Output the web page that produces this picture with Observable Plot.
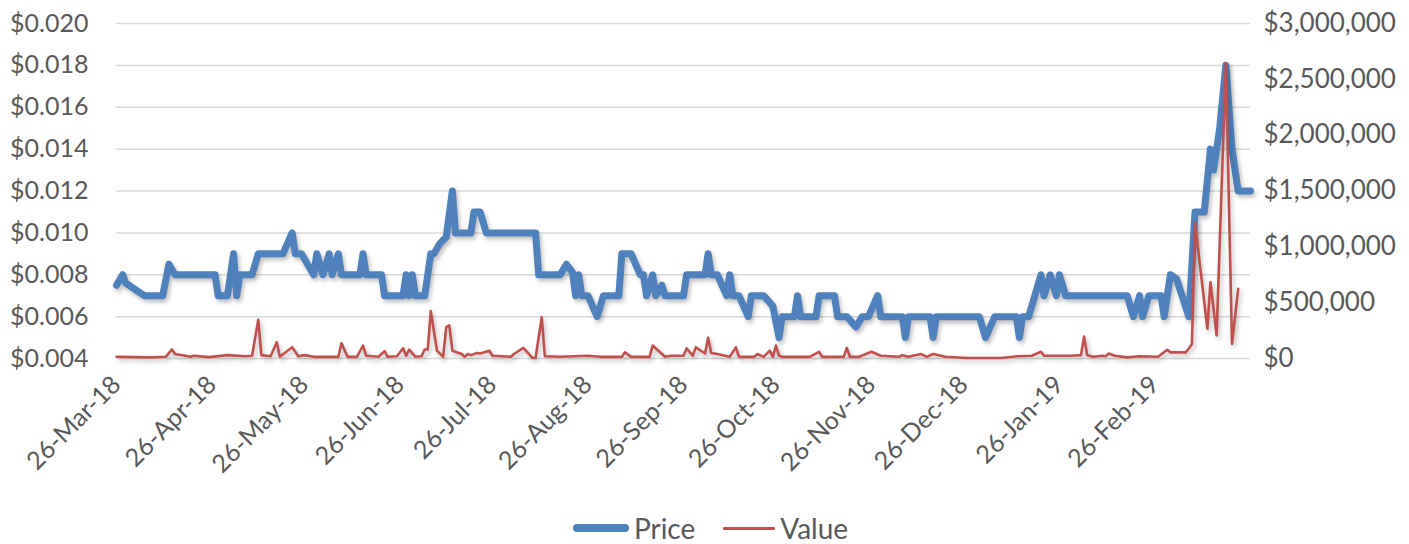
<!DOCTYPE html>
<html>
<head>
<meta charset="utf-8">
<script src="https://cdn.jsdelivr.net/npm/d3@7"></script>
<script src="https://cdn.jsdelivr.net/npm/@observablehq/plot@0.6"></script>
<style>
  html, body { margin: 0; padding: 0; background: #fff; }
  #chart { width: 1409px; height: 544px; position: relative; font-family: Lato, "Open Sans", sans-serif; }
  .legend { position: absolute; left: 6px; top: 511px; width: 1409px; display: flex; justify-content: center; align-items: center; font-size: 28px; color: #595959; }
  .legend .item { display: flex; align-items: center; margin: 0 14px; }
  .legend .sw { display: inline-block; margin-right: 5px; border-radius: 4px; }
</style>
</head>
<body>
<div id="chart"></div>
<script>
// ---- Price series (left axis) ----
const priceDates = [
  "2018-03-26","2018-03-28","2018-03-29","2018-04-04","2018-04-10","2018-04-12","2018-04-14","2018-04-27","2018-04-28","2018-05-01",
  "2018-05-03","2018-05-04","2018-05-05","2018-05-09","2018-05-11","2018-05-19","2018-05-22","2018-05-23","2018-05-25","2018-05-29",
  "2018-05-30","2018-06-01","2018-06-03","2018-06-04","2018-06-06","2018-06-07","2018-06-13","2018-06-14","2018-06-15","2018-06-20",
  "2018-06-21","2018-06-27","2018-06-28","2018-06-29","2018-06-30","2018-07-01","2018-07-04","2018-07-05","2018-07-06","2018-07-07",
  "2018-07-09","2018-07-11","2018-07-13","2018-07-14","2018-07-19","2018-07-20","2018-07-22","2018-07-24","2018-08-09","2018-08-10",
  "2018-08-17","2018-08-19","2018-08-21","2018-08-22","2018-08-23","2018-08-24","2018-08-26","2018-08-29","2018-08-31","2018-09-05",
  "2018-09-06","2018-09-09","2018-09-12","2018-09-13","2018-09-14","2018-09-16","2018-09-17","2018-09-19","2018-09-20","2018-09-26",
  "2018-09-27","2018-10-03","2018-10-04","2018-10-05","2018-10-07","2018-10-10","2018-10-11","2018-10-12","2018-10-14","2018-10-17",
  "2018-10-18","2018-10-22","2018-10-25","2018-10-27","2018-10-28","2018-11-01","2018-11-02","2018-11-03","2018-11-08","2018-11-09",
  "2018-11-14","2018-11-15","2018-11-18","2018-11-21","2018-11-23","2018-11-25","2018-11-28","2018-11-29","2018-12-06","2018-12-07",
  "2018-12-08","2018-12-15","2018-12-16","2018-12-17","2018-12-31","2019-01-02","2019-01-05","2019-01-12","2019-01-13","2019-01-14",
  "2019-01-16","2019-01-18","2019-01-20","2019-01-21","2019-01-23","2019-01-25","2019-01-26","2019-01-28","2019-02-17","2019-02-19",
  "2019-02-21","2019-02-22","2019-02-24","2019-02-28","2019-03-01","2019-03-03","2019-03-05","2019-03-09","2019-03-11","2019-03-14",
  "2019-03-16","2019-03-17","2019-03-19","2019-03-21","2019-03-23","2019-03-25","2019-03-29"
];
const priceValues = [
  0.0075,0.008,0.0076,0.007,0.007,0.0085,0.008,0.008,0.007,0.007,
  0.009,0.007,0.008,0.008,0.009,0.009,0.010,0.009,0.009,0.008,
  0.009,0.008,0.009,0.008,0.009,0.008,0.008,0.009,0.008,0.008,
  0.007,0.007,0.008,0.007,0.008,0.007,0.007,0.008,0.009,0.009,
  0.0095,0.0098,0.012,0.010,0.010,0.011,0.011,0.010,0.010,0.008,
  0.008,0.0085,0.0081,0.007,0.008,0.007,0.007,0.006,0.007,0.007,
  0.009,0.009,0.008,0.008,0.007,0.008,0.007,0.0075,0.007,0.007,
  0.008,0.008,0.009,0.008,0.008,0.007,0.008,0.007,0.007,0.006,
  0.007,0.007,0.0065,0.005,0.006,0.006,0.007,0.006,0.006,0.007,
  0.007,0.006,0.006,0.0055,0.006,0.006,0.007,0.006,0.006,0.005,
  0.006,0.006,0.005,0.006,0.006,0.005,0.006,0.006,0.005,0.006,
  0.006,0.007,0.008,0.007,0.008,0.007,0.008,0.007,0.007,0.006,
  0.007,0.006,0.007,0.007,0.006,0.008,0.0078,0.006,0.011,0.011,
  0.014,0.013,0.015,0.018,0.014,0.012,0.012
];

// ---- Value series (right axis) ----
const valueDates = [
  "2018-03-26","2018-04-06","2018-04-11","2018-04-13","2018-04-14","2018-04-19","2018-04-20","2018-04-25","2018-05-01","2018-05-07",
  "2018-05-09","2018-05-11","2018-05-12","2018-05-15","2018-05-17","2018-05-18","2018-05-22","2018-05-24","2018-05-26","2018-05-29",
  "2018-06-06","2018-06-07","2018-06-09","2018-06-12","2018-06-14","2018-06-15","2018-06-19","2018-06-21","2018-06-22","2018-06-25",
  "2018-06-27","2018-06-28","2018-06-29","2018-07-01","2018-07-03","2018-07-04","2018-07-05","2018-07-06","2018-07-08","2018-07-10",
  "2018-07-11","2018-07-12","2018-07-13","2018-07-16","2018-07-17","2018-07-18","2018-07-19","2018-07-21","2018-07-22","2018-07-25",
  "2018-07-26","2018-08-01","2018-08-02","2018-08-05","2018-08-08","2018-08-09","2018-08-11","2018-08-12","2018-08-17","2018-08-26",
  "2018-08-30","2018-09-06","2018-09-07","2018-09-09","2018-09-15","2018-09-16","2018-09-20","2018-09-22","2018-09-26","2018-09-27",
  "2018-09-29","2018-09-30","2018-10-03","2018-10-04","2018-10-05","2018-10-07","2018-10-11","2018-10-13","2018-10-14","2018-10-19",
  "2018-10-20","2018-10-22","2018-10-24","2018-10-25","2018-10-26","2018-10-27","2018-10-28","2018-11-06","2018-11-07","2018-11-09",
  "2018-11-10","2018-11-17","2018-11-18","2018-11-19","2018-11-22","2018-11-26","2018-11-29","2018-12-05","2018-12-06","2018-12-08",
  "2018-12-12","2018-12-14","2018-12-16","2018-12-20","2018-12-27","2019-01-07","2019-01-11","2019-01-12","2019-01-17","2019-01-20",
  "2019-01-21","2019-01-23","2019-01-26","2019-01-30","2019-02-02","2019-02-03","2019-02-04","2019-02-06","2019-02-09","2019-02-10",
  "2019-02-11","2019-02-13","2019-02-17","2019-02-21","2019-02-27","2019-03-02","2019-03-03","2019-03-08","2019-03-09","2019-03-10",
  "2019-03-11","2019-03-15","2019-03-16","2019-03-18","2019-03-21","2019-03-23","2019-03-25"
];
const valueAmounts = [
  15000,10000,15000,81000,40000,15000,25000,12000,30000,20000,
  25000,346000,30000,20000,146000,15000,101000,20000,30000,15000,
  15000,137000,15000,15000,116000,25000,15000,65000,15000,20000,
  92000,25000,80000,15000,20000,80000,80000,424000,70000,15000,
  280000,296000,70000,40000,15000,40000,30000,50000,45000,70000,
  25000,15000,40000,95000,5000,5000,370000,20000,15000,25000,
  15000,15000,55000,15000,15000,116000,15000,25000,25000,90000,
  25000,100000,45000,185000,50000,40000,15000,100000,15000,15000,
  40000,15000,70000,15000,116000,25000,15000,15000,30000,60000,
  15000,15000,95000,15000,15000,60000,25000,15000,30000,15000,
  40000,15000,40000,15000,5000,5000,15000,20000,25000,60000,
  25000,25000,25000,25000,30000,197000,30000,15000,25000,20000,
  45000,25000,10000,20000,15000,78000,55000,55000,90000,130000,
  1220000,266000,683000,206000,2645000,131000,624000
];

// ---- Axes ----
const priceTicks = [0.004,0.006,0.008,0.010,0.012,0.014,0.016,0.018,0.020];
const valueTicks = [0,500000,1000000,1500000,2000000,2500000,3000000];
const dateTicks = ["2018-03-26","2018-04-26","2018-05-26","2018-06-26","2018-07-26","2018-08-26","2018-09-26","2018-10-26","2018-11-26","2018-12-26","2019-01-26","2019-02-26"];
const dateDomain = ["2018-03-26","2019-03-29"];

const parse = d3.utcParse("%Y-%m-%d");
const pMin = 0.004, pMax = 0.020, vMax = 3000000;
const v2p = v => pMin + v / vMax * (pMax - pMin);

const priceData = priceDates.map((d, i) => ({date: parse(d), price: priceValues[i]}));
const valueData = valueDates.map((d, i) => ({date: parse(d), value: valueAmounts[i]}));

const fmtDate = d3.utcFormat("%d-%b-%y");
const fmtMoney = d3.format(",");

const chart = Plot.plot({
  width: 1409,
  height: 500,
  marginTop: 23,
  marginBottom: 142,
  marginLeft: 116,
  marginRight: 159,
  style: {fontFamily: "Lato, 'Open Sans', sans-serif", fontSize: "25px", color: "#595959", background: "#fff", overflow: "visible"},
  x: {type: "utc", domain: dateDomain.map(parse), label: null},
  y: {domain: [pMin, pMax], label: null},
  marks: [
    Plot.ruleY(priceTicks, {stroke: "#d9d9d9", strokeWidth: 1.5}),
    Plot.axisY(priceTicks, {anchor: "left", label: null, tickSize: 0, tickPadding: 28, tickFormat: d => "$" + d.toFixed(3), fill: "#595959", fontSize: 25}),
    Plot.axisY(valueTicks.map(v2p), {anchor: "right", label: null, tickSize: 0, tickPadding: 13, tickFormat: (d, i) => "$" + fmtMoney(valueTicks[i]), fill: "#595959", fontSize: 26, textAnchor: "start"}),
    Plot.axisX(dateTicks.map(parse), {label: null, tickSize: 0, tickPadding: 22, tickRotate: -45, tickFormat: fmtDate, fill: "#595959", fontSize: 25}),
    Plot.line(priceData, {x: "date", y: "price", stroke: "#4F81BD", strokeWidth: 7, strokeLinejoin: "round", strokeLinecap: "round"}),
    Plot.line(valueData, {x: "date", y: d => v2p(d.value), stroke: "#C0504D", strokeWidth: 2.6, strokeLinejoin: "round"})
  ]
});

d3.select(chart).selectAll('g[aria-label="line"]').style("filter", "drop-shadow(2px 3px 2px rgba(0,0,0,0.25))");

const root = document.getElementById("chart");
root.appendChild(chart);

const legend = document.createElement("div");
legend.className = "legend";
legend.innerHTML = `
  <div class="item"><span class="sw" style="width:56px;height:8px;background:#4F81BD"></span><span>Price</span></div>
  <div class="item" style="margin-left:14px"><span class="sw" style="width:52px;height:3px;background:#C0504D;border-radius:1px"></span><span>Value</span></div>`;
root.appendChild(legend);
</script>
</body>
</html>
